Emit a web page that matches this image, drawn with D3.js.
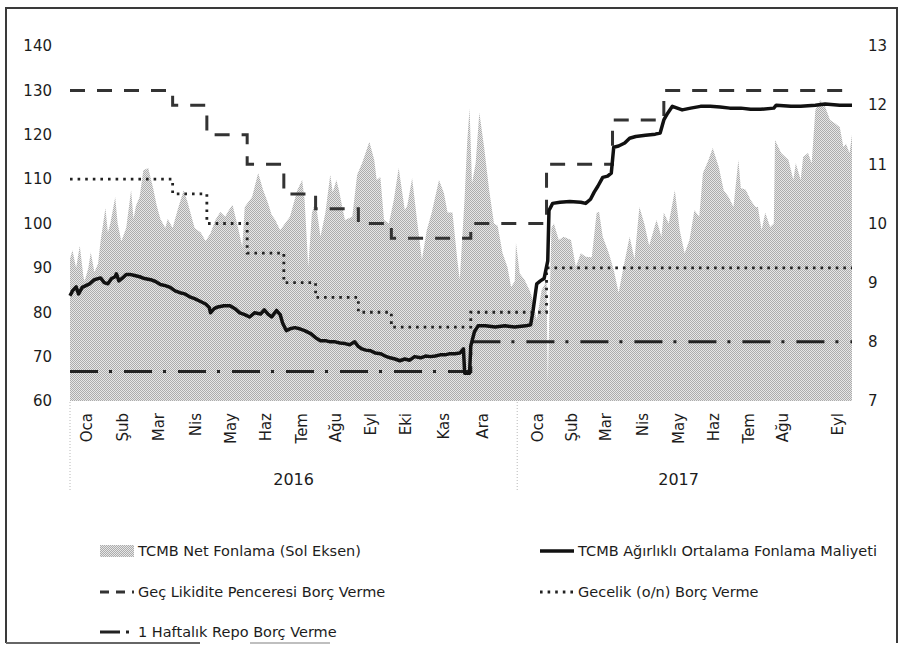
<!DOCTYPE html>
<html>
<head>
<meta charset="utf-8">
<script src="https://cdn.jsdelivr.net/npm/d3@7"></script>
<style>
    body { margin: 0; background: #fff; }
    svg text { font-family: "DejaVu Sans", Verdana, sans-serif; fill: #1c1c1c; }
</style>
</head>
<body>
<svg id="chart" width="900" height="646"></svg>
<script>
// TCMB net funding (left axis, billion TL)
const fundingDates = [
    "2016-01-01","2016-01-03","2016-01-06","2016-01-09","2016-01-12","2016-01-13","2016-01-16","2016-01-18",
    "2016-01-21","2016-01-24","2016-01-26","2016-01-30","2016-02-01","2016-02-03","2016-02-07","2016-02-09",
    "2016-02-12","2016-02-16","2016-02-20","2016-02-22","2016-02-24","2016-02-27","2016-03-01","2016-03-05",
    "2016-03-09","2016-03-12","2016-03-15","2016-03-19","2016-03-21","2016-03-25","2016-03-29","2016-04-03",
    "2016-04-06","2016-04-08","2016-04-12","2016-04-17","2016-04-21","2016-04-25","2016-04-29","2016-05-03",
    "2016-05-07","2016-05-10","2016-05-13","2016-05-18","2016-05-21","2016-05-23","2016-05-29","2016-06-03",
    "2016-06-07","2016-06-11","2016-06-14","2016-06-17","2016-06-21","2016-06-25","2016-06-29","2016-07-05",
    "2016-07-09","2016-07-11","2016-07-14","2016-07-17","2016-07-20","2016-07-24","2016-07-28","2016-08-01",
    "2016-08-03","2016-08-06","2016-08-08","2016-08-13","2016-08-19","2016-08-23","2016-08-27","2016-08-30",
    "2016-09-02","2016-09-06","2016-09-08","2016-09-11","2016-09-14","2016-09-18","2016-09-22","2016-09-26",
    "2016-10-01","2016-10-03","2016-10-07","2016-10-11","2016-10-15","2016-10-19","2016-10-23","2016-10-29",
    "2016-11-02","2016-11-05","2016-11-09","2016-11-13","2016-11-15","2016-11-19","2016-11-21","2016-11-23",
    "2016-11-25","2016-11-28","2016-12-01","2016-12-05","2016-12-09","2016-12-13","2016-12-16","2016-12-20",
    "2016-12-24","2016-12-27","2016-12-30","2016-12-31","2017-01-03","2017-01-07","2017-01-11","2017-01-13",
    "2017-01-17","2017-01-21","2017-01-25","2017-01-26","2017-01-29","2017-01-31","2017-02-04","2017-02-08",
    "2017-02-14","2017-02-18","2017-02-22","2017-02-26","2017-03-03","2017-03-07","2017-03-09","2017-03-12",
    "2017-03-17","2017-03-21","2017-03-25","2017-03-29","2017-04-03","2017-04-07","2017-04-11","2017-04-15",
    "2017-04-19","2017-04-25","2017-04-29","2017-05-01","2017-05-05","2017-05-10","2017-05-14","2017-05-18",
    "2017-05-22","2017-05-26","2017-05-30","2017-06-02","2017-06-06","2017-06-10","2017-06-15","2017-06-19",
    "2017-06-23","2017-06-27","2017-07-01","2017-07-03","2017-07-07","2017-07-11","2017-07-15","2017-07-17",
    "2017-07-20","2017-07-23","2017-07-27","2017-07-30","2017-07-31","2017-08-05","2017-08-11","2017-08-15",
    "2017-08-17","2017-08-21","2017-08-23","2017-08-27","2017-08-30","2017-09-02","2017-09-06","2017-09-10",
    "2017-09-14","2017-09-18","2017-09-22","2017-09-25","2017-09-27","2017-09-30","2017-10-02"
];
const fundingValues = [
    92, 94, 90, 95, 88, 87, 90, 93.5,
    89, 91, 96, 103.5, 98, 100, 106, 100,
    96, 99, 107.5, 101, 104, 106, 112, 112.5,
    108, 104, 101, 99, 101, 99, 103, 107.5,
    105, 103, 99, 98, 96, 97.8, 100.8, 102.6,
    101.5, 103, 104.2, 98.5, 94.7, 103.7, 106, 111.4,
    107.6, 104.6, 102, 100.8, 98.5, 100, 101.5, 107.5,
    109.8, 105.3, 90.2, 102.4, 105, 97, 102.4, 111,
    107, 109.8, 107.6, 100.8, 101.5, 111, 113.6, 116,
    118.4, 114.3, 109.8, 110.5, 100.8, 100, 105.3, 112.5,
    103, 104, 110.2, 100.8, 91.8, 98.5, 102.4, 109.8,
    106.9, 102.5, 102.5, 91.8, 87.3, 106, 118, 126,
    109, 113.6, 125, 117, 107.6, 100, 99.5, 93.3,
    90.2, 85.7, 87, 95.6, 88.8, 87.3, 85, 83.5,
    78.3, 85, 87, 64, 99, 100, 96.3, 97,
    96.3, 90.2, 93.3, 92.5, 92.4, 102.4, 102.6, 97,
    93.3, 89.5, 84.4, 90.2, 97, 92, 103.7, 100,
    95, 100.8, 97, 102.4, 100, 107.5, 98.5, 93.3,
    96.3, 103, 101.5, 111.4, 113.9, 117, 112.7, 107.5,
    106, 103.7, 114.3, 108, 107.6, 105.3, 103.7, 103.7,
    98.5, 102.4, 99.2, 100, 118.8, 115.9, 114.3, 109.8,
    113.6, 109.8, 115, 115.9, 113.6, 125.6, 127.8, 126.3,
    123.3, 122.6, 121.7, 117.2, 118, 115.9, 120
];

// weighted average funding cost (right axis, %)
const avgCostDates = [
    "2016-01-01","2016-01-03","2016-01-06","2016-01-08","2016-01-11","2016-01-14","2016-01-17","2016-01-21",
    "2016-01-26","2016-01-29","2016-02-01","2016-02-04","2016-02-07","2016-02-08","2016-02-10","2016-02-13",
    "2016-02-16","2016-02-19","2016-02-23","2016-02-27","2016-03-02","2016-03-07","2016-03-11","2016-03-15",
    "2016-03-19","2016-03-23","2016-03-27","2016-03-31","2016-04-04","2016-04-08","2016-04-12","2016-04-16",
    "2016-04-21","2016-04-24","2016-04-25","2016-04-28","2016-05-01","2016-05-06","2016-05-11","2016-05-15",
    "2016-05-19","2016-05-23","2016-05-27","2016-05-31","2016-06-05","2016-06-08","2016-06-11","2016-06-14",
    "2016-06-18","2016-06-21","2016-06-23","2016-06-26","2016-06-29","2016-07-03","2016-07-07","2016-07-11",
    "2016-07-16","2016-07-20","2016-07-24","2016-07-28","2016-08-01","2016-08-05","2016-08-09","2016-08-13",
    "2016-08-17","2016-08-21","2016-08-24","2016-08-27","2016-08-30","2016-09-03","2016-09-07","2016-09-11",
    "2016-09-15","2016-09-19","2016-09-23","2016-09-27","2016-10-01","2016-10-05","2016-10-09","2016-10-14",
    "2016-10-18","2016-10-22","2016-10-26","2016-10-30","2016-11-03","2016-11-07","2016-11-11","2016-11-15",
    "2016-11-18","2016-11-19","2016-11-23","2016-11-24","2016-11-27","2016-11-30","2016-12-06","2016-12-14",
    "2016-12-22","2016-12-30","2017-01-08","2017-01-12","2017-01-14","2017-01-17","2017-01-20","2017-01-23",
    "2017-01-26","2017-01-27","2017-01-30","2017-02-05","2017-02-13","2017-02-22","2017-02-26","2017-03-02",
    "2017-03-05","2017-03-08","2017-03-12","2017-03-16","2017-03-19","2017-03-21","2017-03-25","2017-03-30",
    "2017-04-03","2017-04-08","2017-04-16","2017-04-24","2017-04-28","2017-05-01","2017-05-04","2017-05-08",
    "2017-05-12","2017-05-16","2017-05-23","2017-05-31","2017-06-08","2017-06-16","2017-06-24","2017-07-03",
    "2017-07-11","2017-07-19","2017-07-30","2017-08-01","2017-08-13","2017-08-21","2017-09-02","2017-09-10",
    "2017-09-22","2017-10-02"
];
const avgCostValues = [
    8.78, 8.86, 8.93, 8.81, 8.92, 8.95, 8.98, 9.05,
    9.08, 9.0, 8.98, 9.07, 9.1, 9.15, 9.03, 9.08,
    9.14, 9.14, 9.12, 9.1, 9.07, 9.05, 9.02, 8.97,
    8.95, 8.92, 8.86, 8.83, 8.81, 8.76, 8.73, 8.69,
    8.64, 8.58, 8.49, 8.56, 8.59, 8.61, 8.61, 8.56,
    8.49, 8.46, 8.42, 8.49, 8.47, 8.54, 8.47, 8.42,
    8.53, 8.46, 8.32, 8.19, 8.22, 8.24, 8.22, 8.19,
    8.14, 8.07, 8.02, 8.02, 8.0, 8.0, 7.98, 7.97,
    7.95, 8.0, 7.92, 7.88, 7.86, 7.85, 7.81, 7.8,
    7.76, 7.73, 7.71, 7.68, 7.71, 7.69, 7.75, 7.73,
    7.76, 7.75, 7.76, 7.78, 7.78, 7.8, 7.8, 7.81,
    7.88, 7.47, 7.47, 7.93, 8.17, 8.27, 8.27, 8.25,
    8.27, 8.25, 8.27, 8.29, 8.53, 8.98, 9.03, 9.07,
    9.37, 10.22, 10.34, 10.36, 10.37, 10.36, 10.34, 10.41,
    10.53, 10.63, 10.78, 10.8, 10.85, 11.29, 11.31, 11.36,
    11.44, 11.47, 11.49, 11.51, 11.53, 11.75, 11.86, 11.98,
    11.95, 11.92, 11.95, 11.98, 11.98, 11.97, 11.95, 11.95,
    11.93, 11.93, 11.95, 12.0, 11.98, 11.98, 12.0, 12.02,
    12.0, 12.0
];

// policy corridor (right axis, %), value holds from each date until the next
const policyDates = [
    "2016-01-01","2016-03-25","2016-04-22","2016-05-25","2016-06-24","2016-07-20","2016-08-24",
    "2016-09-20","2016-11-24","2017-01-25","2017-03-20","2017-05-01","2017-10-02"
];
const lateLiquidityRate = [12.25, 12.00, 11.50, 11.00, 10.50, 10.25, 10.00, 9.75, 10.00, 11.00, 11.75, 12.25, 12.25];
const overnightRate     = [10.75, 10.50, 10.00, 9.50, 9.00, 8.75, 8.50, 8.25, 8.50, 9.25, 9.25, 9.25, 9.25];
const oneWeekRepoRate   = [7.50, 7.50, 7.50, 7.50, 7.50, 7.50, 7.50, 7.50, 8.00, 8.00, 8.00, 8.00, 8.00];

// axis labels
const leftTicks = [60, 70, 80, 90, 100, 110, 120, 130, 140];
const rightTicks = [7, 8, 9, 10, 11, 12, 13];
const monthLabels = ["Oca","Şub","Mar","Nis","May","Haz","Tem","Ağu","Eyl","Eki","Kas","Ara",
                     "Oca","Şub","Mar","Nis","May","Haz","Tem","Ağu","Eyl"];
const monthLabelDates = [
    "2016-01-14","2016-02-13","2016-03-13","2016-04-12","2016-05-11","2016-06-09","2016-07-08",
    "2016-08-05","2016-09-03","2016-10-01","2016-11-01","2016-12-03",
    "2017-01-17","2017-02-14","2017-03-14","2017-04-13","2017-05-13","2017-06-10","2017-07-09",
    "2017-08-06","2017-09-20"
];
const yearLabels = ["2016", "2017"];
const yearStarts = ["2016-01-01", "2017-01-01"];
const seriesEnd = "2017-10-02";

const legendNames = [
    "TCMB Net Fonlama (Sol Eksen)",
    "TCMB Ağırlıklı Ortalama Fonlama Maliyeti",
    "Geç Likidite Penceresi Borç Verme",
    "Gecelik (o/n) Borç Verme",
    "1 Haftalık Repo Borç Verme"
];

const parse = d3.timeParse("%Y-%m-%d");
const svg = d3.select("#chart");

// layout
const plotLeft = 70, plotRight = 852, plotTop = 46, plotBottom = 401;

const x = d3.scaleTime()
    .domain([parse(yearStarts[0]), parse(seriesEnd)])
    .range([plotLeft, plotRight]);
const yLeft = d3.scaleLinear().domain([60, 140]).range([plotBottom, plotTop]);
const yRight = d3.scaleLinear().domain([7, 13]).range([plotBottom, plotTop]);

svg.append("rect").attr("width", 900).attr("height", 646).attr("fill", "#fff");

// halftone fill like the scanned grey area
let defs = svg.append("defs");
let pat = defs.append("pattern")
    .attr("id", "halftone")
    .attr("patternUnits", "userSpaceOnUse")
    .attr("width", 2).attr("height", 2);
pat.append("rect").attr("width", 2).attr("height", 2).attr("fill", "#e6e6e6");
pat.append("rect").attr("x", 0).attr("y", 0).attr("width", 1).attr("height", 1).attr("fill", "#acacac");
pat.append("rect").attr("x", 1).attr("y", 1).attr("width", 1).attr("height", 1).attr("fill", "#acacac");

// frame
svg.append("path")
    .attr("d", "M6,643 L6,8 L897,8 L897,643")
    .attr("fill", "none").attr("stroke", "#3a3a3a").attr("stroke-width", 2);
svg.append("line").attr("x1", 6).attr("x2", 200).attr("y1", 643).attr("y2", 643)
    .attr("stroke", "#666").attr("stroke-width", 2);
svg.append("line").attr("x1", 250).attr("x2", 330).attr("y1", 643).attr("y2", 643)
    .attr("stroke", "#aaa").attr("stroke-width", 1.5);

// net funding area
let fundingData = fundingDates.map((d, i) => ({ date: parse(d), value: fundingValues[i] }));
svg.append("path")
    .datum(fundingData)
    .attr("fill", "url(#halftone)")
    .attr("d", d3.area()
        .x(d => x(d.date))
        .y0(yLeft(60))
        .y1(d => yLeft(d.value)));

// policy rate step lines
let policyLine = d3.line()
    .x(d => x(d.date))
    .y(d => yRight(d.value))
    .curve(d3.curveStepAfter);
function policySeries(rates) {
    return policyDates.map((d, i) => ({ date: parse(d), value: rates[i] }));
}

const lineStyles = {
    late:   { dash: "15,12", width: 3, color: "#333" },
    night:  { dash: "2.6,5", width: 2.8, color: "#222" },
    repo:   { dash: "28,11,3,12", width: 3, color: "#222" },
    cost:   { dash: null, width: 3.5, color: "#111" }
};

svg.append("path")
    .datum(policySeries(lateLiquidityRate))
    .attr("fill", "none")
    .attr("stroke", lineStyles.late.color)
    .attr("stroke-width", lineStyles.late.width)
    .attr("stroke-dasharray", lineStyles.late.dash)
    .attr("d", policyLine);

svg.append("path")
    .datum(policySeries(overnightRate))
    .attr("fill", "none")
    .attr("stroke", lineStyles.night.color)
    .attr("stroke-width", lineStyles.night.width)
    .attr("stroke-dasharray", lineStyles.night.dash)
    .attr("d", policyLine);

svg.append("path")
    .datum(policySeries(oneWeekRepoRate))
    .attr("fill", "none")
    .attr("stroke", lineStyles.repo.color)
    .attr("stroke-width", lineStyles.repo.width)
    .attr("stroke-dasharray", lineStyles.repo.dash)
    .attr("d", policyLine);

// weighted average funding cost
let costData = avgCostDates.map((d, i) => ({ date: parse(d), value: avgCostValues[i] }));
svg.append("path")
    .datum(costData)
    .attr("fill", "none")
    .attr("stroke", lineStyles.cost.color)
    .attr("stroke-width", lineStyles.cost.width)
    .attr("stroke-linejoin", "round")
    .attr("d", d3.line().x(d => x(d.date)).y(d => yRight(d.value)));

// left axis
let leftAxis = svg.append("g")
    .attr("transform", "translate(" + plotLeft + ",0)")
    .call(d3.axisLeft(yLeft).tickValues(leftTicks).tickSize(0).tickPadding(18));
leftAxis.select(".domain").remove();
leftAxis.selectAll("text").attr("font-size", 15).attr("fill", "#1c1c1c");

// right axis
let rightAxis = svg.append("g")
    .attr("transform", "translate(" + plotRight + ",0)")
    .call(d3.axisRight(yRight).tickValues(rightTicks).tickFormat(d3.format("d")).tickSize(0).tickPadding(16));
rightAxis.select(".domain").remove();
rightAxis.selectAll("text").attr("font-size", 15).attr("fill", "#1c1c1c");

// month labels, rotated
let monthAxis = svg.append("g")
    .attr("transform", "translate(0," + plotBottom + ")")
    .call(d3.axisBottom(x)
        .tickValues(monthLabelDates.map(parse))
        .tickFormat((d, i) => monthLabels[i])
        .tickSize(0));
monthAxis.select(".domain").remove();
monthAxis.selectAll("text")
    .attr("font-size", 15)
    .attr("fill", "#1c1c1c")
    .attr("transform", "rotate(-90)")
    .attr("x", -12)
    .attr("y", 0)
    .attr("dy", "0.36em")
    .style("text-anchor", "end");

// year groups
let yearBounds = yearStarts.map(parse).concat([parse(seriesEnd)]);
yearLabels.forEach((label, i) => {
    svg.append("line")
        .attr("x1", x(yearBounds[i])).attr("x2", x(yearBounds[i]))
        .attr("y1", plotBottom + 1).attr("y2", 492)
        .attr("stroke", "#b8b8b8")
        .attr("stroke-dasharray", "1,2");
    svg.append("text")
        .attr("x", (x(yearBounds[i]) + x(yearBounds[i + 1])) / 2 - (i === 1 ? 6 : 0))
        .attr("y", 485)
        .attr("font-size", 16)
        .attr("text-anchor", "middle")
        .text(label);
});

// legend
const legendItems = [
    { name: legendNames[0], type: "area", col: 0, row: 0 },
    { name: legendNames[1], type: "cost", col: 1, row: 0 },
    { name: legendNames[2], type: "late", col: 0, row: 1 },
    { name: legendNames[3], type: "night", col: 1, row: 1 },
    { name: legendNames[4], type: "repo", col: 0, row: 2 }
];
const legendCols = [100, 540];
const legendRows = [551, 592, 632];

legendItems.forEach(item => {
    let lx = legendCols[item.col];
    let ly = legendRows[item.row];
    let g = svg.append("g").attr("transform", "translate(" + lx + "," + ly + ")");
    if (item.type === "area") {
        g.append("rect").attr("x", 0).attr("y", -6).attr("width", 34).attr("height", 12)
            .attr("fill", "url(#halftone)");
    } else {
        let st = lineStyles[item.type];
        let dash = st.dash;
        if (item.type === "late") dash = "9,7";
        if (item.type === "repo") dash = "20,6,3,6";
        g.append("line").attr("x1", 0).attr("x2", 34).attr("y1", 0).attr("y2", 0)
            .attr("stroke", st.color)
            .attr("stroke-width", st.width)
            .attr("stroke-dasharray", dash);
    }
    g.append("text")
        .attr("x", 38)
        .attr("y", 0)
        .attr("dy", "0.35em")
        .attr("font-size", 14.5)
        .text(item.name);
});
</script>
</body>
</html>
